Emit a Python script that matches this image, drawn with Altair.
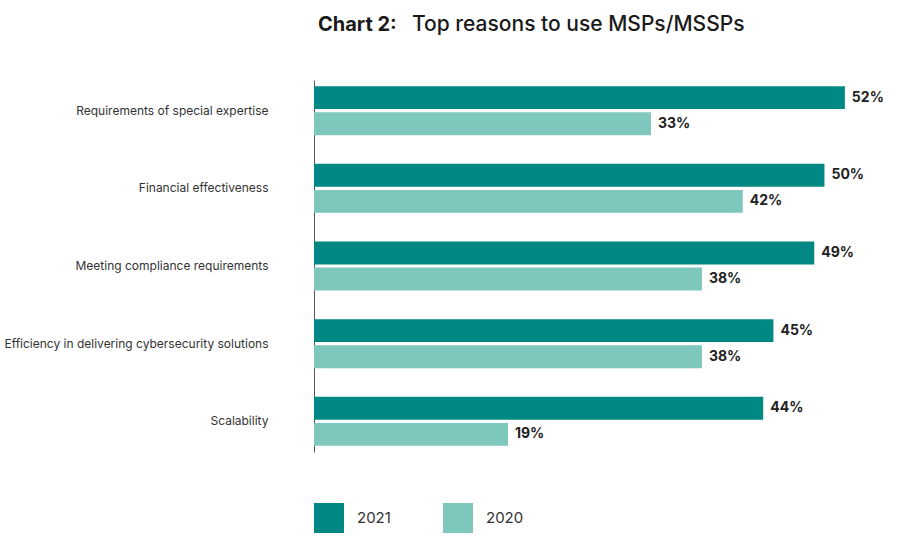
import altair as alt
import pandas as pd

categories = [
    "Requirements of special expertise",
    "Financial effectiveness",
    "Meeting compliance requirements",
    "Efficiency in delivering cybersecurity solutions",
    "Scalability",
]
years = ["2021", "2020"]
v2021 = [52, 50, 49, 45, 44]
v2020 = [33, 42, 38, 38, 19]
title_bold = "Chart 2:"
title_rest = "Top reasons to use MSPs/MSSPs"
colors = ["#008884", "#7dc7bd"]

rows = []
for c, a, b in zip(categories, v2021, v2020):
    rows.append({"category": c, "year": "2021", "value": a, "label": f"{a}%"})
    rows.append({"category": c, "year": "2020", "value": b, "label": f"{b}%"})
df = pd.DataFrame(rows)

FONT = "Inter"

base = alt.Chart(df).encode(
    y=alt.Y(
        "category:N",
        sort=categories,
        scale=alt.Scale(paddingInner=0.37, paddingOuter=0.08),
        axis=alt.Axis(
            title=None,
            ticks=False,
            domainColor="#555555",
            domainWidth=1,
            labelPadding=46,
            labelFontSize=12,
            labelColor="#333333",
            labelFont=FONT,
            labelLimit=400,
        ),
    ),
    yOffset=alt.YOffset("year:N", sort=years, scale=alt.Scale(paddingInner=0.12)),
    x=alt.X("value:Q", scale=alt.Scale(domain=[0, 57.4], nice=False), axis=None),
)

bars = base.mark_bar().encode(
    color=alt.Color(
        "year:N",
        sort=years,
        scale=alt.Scale(domain=years, range=colors),
        legend=alt.Legend(
            title=None,
            orient="none",
            legendX=0,
            legendY=423,
            direction="horizontal",
            symbolType="square",
            symbolSize=900,
            symbolStrokeWidth=0,
            symbolOpacity=1,
            labelFontSize=15,
            labelFont=FONT,
            labelColor="#333333",
            labelOffset=13,
            columnPadding=52,
        ),
    )
)

text = base.mark_text(
    align="left", baseline="middle", dx=7, fontWeight="bold", fontSize=14, font=FONT, color="#222222"
).encode(text="label:N")

t1 = alt.Chart(pd.DataFrame({"t": [title_bold]})).mark_text(
    align="left", baseline="middle", fontWeight="bold", fontSize=20, font=FONT, color="#1a1a1a"
).encode(text="t:N", x=alt.value(4), y=alt.value(-55))

t2 = alt.Chart(pd.DataFrame({"t": [title_rest]})).mark_text(
    align="left", baseline="middle", fontWeight=500, fontSize=21, font=FONT, color="#1a1a1a"
).encode(text="t:N", x=alt.value(98), y=alt.value(-55))

chart = (
    alt.layer(bars, text, t1, t2)
    .properties(
        width=586,
        height=372,
        autosize=alt.AutoSizeParams(type="none"),
        padding={"left": 314, "top": 80, "right": 0, "bottom": 105},
        background="white",
    )
    .configure_view(stroke=None)
)

chart.save("out.html", embed_options={"renderer": "svg", "actions": False})
